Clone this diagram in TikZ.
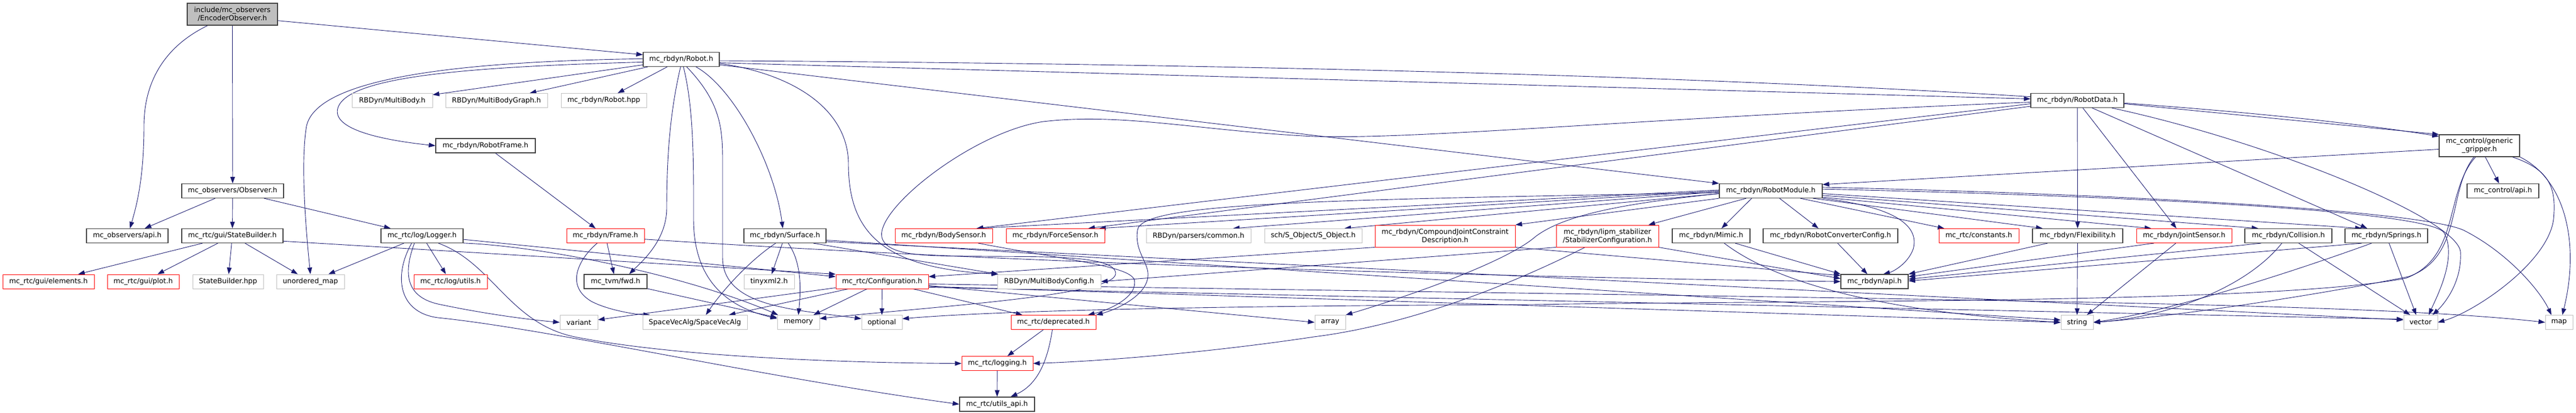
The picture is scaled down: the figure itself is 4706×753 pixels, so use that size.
\documentclass[tikz,border=0pt]{standalone}
\usepackage{fontspec}
\setmainfont{DejaVu Sans}
\usetikzlibrary{arrows.meta}
\pgfdeclarelayer{bg}
\pgfsetlayers{bg,main}
\definecolor{edgec}{RGB}{25,25,112}
\definecolor{grayb}{RGB}{191,191,191}
\definecolor{darkb}{RGB}{64,64,64}
\definecolor{redb}{RGB}{255,0,0}
\begin{document}
\begin{tikzpicture}[x=1pt,y=-1pt,
 box/.style={rectangle, inner sep=0pt, minimum height=26pt, font=\fontsize{12.8}{15}\selectfont, align=center, fill=white},
 nb/.style={box, draw=darkb, line width=1.2pt},
 nr/.style={box, draw=redb, line width=1pt},
 ng/.style={box, draw=grayb, line width=1pt},
 nroot/.style={box, draw=darkb, fill=grayb, line width=1.2pt},
 two/.style={minimum height=40pt},
 e/.style={draw=edgec, line width=0.9pt, -{Triangle[length=12pt,width=8.5pt]}},
]
\useasboundingbox (0,0) rectangle (4706,753);
% ---------------- nodes ----------------
\node[nroot,two,minimum width=165pt] (E) at (424.5,26) {include/mc\_observers\\/EncoderObserver.h};
\node[nb,minimum width=139pt] (Robot) at (1244.5,108.5) {mc\_rbdyn/Robot.h};
\node[ng,minimum width=147pt] (MultiBody) at (716.5,183.5) {RBDyn/MultiBody.h};
\node[ng,minimum width=186pt] (MBG) at (907,183.5) {RBDyn/MultiBodyGraph.h};
\node[ng,minimum width=156pt] (Robothpp) at (1103,183.5) {mc\_rbdyn/Robot.hpp};
\node[nb,minimum width=170pt] (RD) at (3795,183.5) {mc\_rbdyn/RobotData.h};
\node[nb,two,minimum width=147pt] (gripper) at (4529.5,266) {mc\_control/generic\\\_gripper.h};
\node[nb,minimum width=182pt] (RobotFrame) at (887,266) {mc\_rbdyn/RobotFrame.h};
\node[nb,minimum width=186pt] (Observer) at (425,348.5) {mc\_observers/Observer.h};
\node[nb,minimum width=188pt] (RM) at (3235,348.5) {mc\_rbdyn/RobotModule.h};
\node[nb,minimum width=131pt] (ctrlapi) at (4572.5,348.5) {mc\_control/api.h};
\node[nb,minimum width=149pt] (obsapi) at (232.5,430.5) {mc\_observers/api.h};
\node[nb,minimum width=185pt] (SB) at (424.5,430.5) {mc\_rtc/gui/StateBuilder.h};
\node[nb,minimum width=150pt] (Logger) at (771,430.5) {mc\_rtc/log/Logger.h};
\node[nr,minimum width=142pt] (Frame) at (1106,430.5) {mc\_rbdyn/Frame.h};
\node[nb,minimum width=150pt] (Surface) at (1434,430.5) {mc\_rbdyn/Surface.h};
\node[nr,minimum width=178pt] (BS) at (1724,430.5) {mc\_rbdyn/BodySensor.h};
\node[nr,minimum width=180pt] (FS) at (1928,430.5) {mc\_rbdyn/ForceSensor.h};
\node[ng,minimum width=191pt] (parsers) at (2189.5,430.5) {RBDyn/parsers/common.h};
\node[ng,minimum width=178pt] (SObject) at (2399,430.5) {sch/S\_Object/S\_Object.h};
\node[nr,two,minimum width=256pt] (CJ) at (2640,431) {mc\_rbdyn/CompoundJointConstraint\\Description.h};
\node[nr,two,minimum width=187pt] (lipm) at (2936.5,431) {mc\_rbdyn/lipm\_stabilizer\\/StabilizerConfiguration.h};
\node[nb,minimum width=142pt] (Mimic) at (3126,430.5) {mc\_rbdyn/Mimic.h};
\node[nb,minimum width=246pt] (RCC) at (3344,430.5) {mc\_rbdyn/RobotConverterConfig.h};
\node[nr,minimum width=146pt] (constants) at (3615,430.5) {mc\_rtc/constants.h};
\node[nb,minimum width=165pt] (Flex) at (3795.5,430.5) {mc\_rbdyn/Flexibility.h};
\node[nr,minimum width=174pt] (JS) at (3990,430.5) {mc\_rbdyn/JointSensor.h};
\node[nb,minimum width=159pt] (Collision) at (4180.5,430.5) {mc\_rbdyn/Collision.h};
\node[nb,minimum width=151pt] (Springs) at (4359.5,430.5) {mc\_rbdyn/Springs.h};
\node[nr,minimum width=167pt] (elements) at (88.5,514) {mc\_rtc/gui/elements.h};
\node[nr,minimum width=131pt] (plot) at (261.5,514) {mc\_rtc/gui/plot.h};
\node[ng,minimum width=129pt] (SBhpp) at (416.5,514) {StateBuilder.hpp};
\node[ng,minimum width=124pt] (umap) at (567,514) {unordered\_map};
\node[nr,minimum width=134pt] (logutils) at (823,514) {mc\_rtc/log/utils.h};
\node[nb,minimum width=115pt] (tvm) at (1124.5,514) {mc\_tvm/fwd.h};
\node[ng,minimum width=92pt] (tinyxml) at (1405,514) {tinyxml2.h};
\node[nr,minimum width=169pt] (C) at (1611.5,514) {mc\_rtc/Configuration.h};
\node[ng,minimum width=189pt] (MBC) at (1916.5,514) {RBDyn/MultiBodyConfig.h};
\node[nb,minimum width=123pt] (rbdapi) at (3424.5,514) {mc\_rbdyn/api.h};
\node[ng,minimum width=69pt] (variant) at (1057.5,588.5) {variant};
\node[ng,minimum width=191pt] (SVA) at (1269.5,588.5) {SpaceVecAlg/SpaceVecAlg};
\node[ng,minimum width=77pt] (memory) at (1458.5,588.5) {memory};
\node[ng,minimum width=74pt] (optional) at (1611,588.5) {optional};
\node[nr,minimum width=155pt] (D) at (1924.5,588.5) {mc\_rtc/deprecated.h};
\node[ng,minimum width=56pt] (array) at (2430,588.5) {array};
\node[ng,minimum width=59pt] (string) at (3794.5,588.5) {string};
\node[ng,minimum width=62pt] (vector) at (4422,588.5) {vector};
\node[ng,minimum width=50pt] (map) at (4675,588.5) {map};
\node[nr,minimum width=130pt] (logging) at (1822,663.5) {mc\_rtc/logging.h};
\node[nb,minimum width=137pt] (utils) at (1821.5,738) {mc\_rtc/utils\_api.h};
% ---------------- edges ----------------
\begin{pgfonlayer}{bg}
% EncoderObserver
\draw[e] (E) -- (Observer);
\draw[e] ([xshift=-45pt]E.south) .. controls (300,85) and (263,150) .. (263,230) .. controls (263,330) and (248,380) .. ([xshift=5pt]obsapi.north);
\draw[e] (E.-8) -- (Robot.173);
% Observer
\draw[e] (Observer) -- (obsapi);
\draw[e] (Observer) -- (SB);
\draw[e] (Observer) -- (Logger);
% StateBuilder
\draw[e] (SB) -- (elements);
\draw[e] (SB) -- (plot);
\draw[e] (SB) -- (SBhpp);
\draw[e] (SB) -- (umap);
\draw[e] (SB.-6) -- (C.171);
% Logger
\draw[e] (Logger) -- (umap);
\draw[e] (Logger) -- (logutils);
\draw[e] (Logger.-5) -- (C.174);
\draw[e] (Logger.-10) .. controls (1000,450) and (1260,505) .. (memory.160);
\draw[e] ([xshift=-14pt]Logger.south) .. controls (740,490) and (735,540) .. (800,555) .. controls (880,572) and (960,583) .. (variant.west);
\draw[e] ([xshift=-19pt]Logger.south) .. controls (720,500) and (725,570) .. (800,580) .. controls (1000,600) and (1400,690) .. (utils.west);
\draw[e] ([xshift=30pt]Logger.south) .. controls (900,480) and (930,590) .. (1050,615) .. controls (1250,655) and (1600,663) .. (logging.west);
% Robot
\draw[e] (Robot) -- (MultiBody);
\draw[e] (Robot) -- (MBG);
\draw[e] (Robot) -- (Robothpp);
\draw[e] (Robot.179) .. controls (850,112) and (580,140) .. (560,230) .. controls (548,300) and (560,430) .. (umap.north);
\draw[e] (Robot.-176) .. controls (850,122) and (640,140) .. (618,195) .. controls (600,240) and (720,258) .. (RobotFrame.west);
\draw[e] (Robot.-95) .. controls (1225,200) and (1218,280) .. (1218,380) .. controls (1218,440) and (1170,480) .. ([xshift=25pt]tvm.north);
\draw[e] ([xshift=4pt]Robot.south) .. controls (1268,200) and (1267,300) .. (1267,400) .. controls (1267,530) and (1350,565) .. (memory.170);
\draw[e] ([xshift=10pt]Robot.south) .. controls (1320,190) and (1320,240) .. (1320,300) -- (1320,470) .. controls (1320,560) and (1450,565) .. (optional.170);
\draw[e] ([xshift=27pt]Robot.south) .. controls (1340,160) and (1415,300) .. ([xshift=-4pt]Surface.north);
\draw[e] (Robot.-6) .. controls (1450,135) and (1550,200) .. (1550,300) .. controls (1550,430) and (1620,490) .. ([xshift=2pt]MBC.north west);
\draw[e] (Robot.-5) -- (RD.178);
\draw[e] (Robot.-2) .. controls (2600,118) and (3900,160) .. (gripper.167);
\draw[e] (Robot.-8) -- (RM.north west);
% RobotFrame / Frame / tvm
\draw[e] (RobotFrame) -- (Frame);
\draw[e] (Frame) -- (tvm);
\draw[e] ([xshift=-15pt]Frame.south) .. controls (1060,470) and (1030,520) .. (1080,550) .. controls (1110,566) and (1160,574) .. ([xshift=14pt]SVA.north west);
\draw[e] (Frame.-5) .. controls (2000,490) and (3000,510) .. (rbdapi.west);
\draw[e] (tvm) -- (memory);
% Surface
\draw[e] (Surface) -- (tinyxml);
\draw[e] ([xshift=-17pt]Surface.south) .. controls (1370,475) and (1320,530) .. ([xshift=20pt]SVA.north);
\draw[e] ([xshift=6pt]Surface.south) .. controls (1465,480) and (1463,530) .. (memory.north);
\draw[e] ([xshift=52pt]Surface.south) -- ([xshift=2pt]MBC.north west);
\draw[e] (Surface.-6) -- (string.172);
\draw[e] (Surface.-8) -- (vector.172);
% Configuration
\draw[e] (C) -- (variant);
\draw[e] (C) -- (SVA);
\draw[e] (C) -- (memory);
\draw[e] (C) -- (optional);
\draw[e] (C) -- (D);
\draw[e] (C.-5) -- (array.west);
\draw[e] (C.-6) -- (string.west);
\draw[e] (C.-7) -- (vector.170);
\draw[e] (C.-3) .. controls (3500,548) and (4300,550) .. (map.west);
% deprecated / logging
\draw[e] (D) -- (logging);
\draw[e] ([xshift=-2pt]D.south) .. controls (1915,650) and (1900,700) .. ([xshift=25pt]utils.north);
\draw[e] (logging) -- (utils);
% BodySensor
\draw[e] ([xshift=63pt]BS.south) .. controls (1950,475) and (2060,485) .. (2072,510) .. controls (2080,540) and (2030,565) .. ([xshift=-15pt]D.north east);
% RobotData
\draw[e] (RD.-178) .. controls (3000,215) and (2600,255) .. (2400,249) .. controls (2200,240) and (2050,205) .. (1906,222) .. controls (1780,240) and (1600,380) .. (1611,433) .. controls (1620,470) and (1700,467) .. (1800,468) .. controls (1900,469) and (2040,465) .. (2038,500) .. controls (2036,540) and (1700,560) .. (memory.10);
\draw[e] (RD.-176) -- ([xshift=60pt]BS.north);
\draw[e] (RD.-173) -- ([xshift=60pt]FS.north);
\draw[e] (RD) -- (Flex);
\draw[e] ([xshift=10pt]RD.south) -- ([xshift=-14pt]JS.north);
\draw[e] ([xshift=27pt]RD.south) -- ([xshift=-35pt]Springs.north);
\draw[e] ([xshift=63pt]RD.south) .. controls (4150,260) and (4490,400) .. (4495,460) .. controls (4498,520) and (4460,560) .. ([xshift=22pt]vector.north);
\draw[e] (RD.-4) -- (gripper.north west);
% RobotModule
\draw[e] (RM.179) -- ([xshift=60pt]BS.north);
\draw[e] (RM.180) -- ([xshift=80pt]FS.north);
\draw[e] (RM.-179) -- ([xshift=63pt]parsers.north);
\draw[e] (RM.-177) -- ([xshift=57pt]SObject.north);
\draw[e] (RM.south west) -- (CJ.north east);
\draw[e] ([xshift=-45pt]RM.south) -- ([xshift=75pt]lipm.north);
\draw[e] ([xshift=-35pt]RM.south) -- ([xshift=19pt]Mimic.north);
\draw[e] ([xshift=16pt]RM.south) -- ([xshift=-22pt]RCC.north);
\draw[e] ([xshift=54pt]RM.south) -- ([xshift=-63pt]constants.north);
\draw[e] (RM.-10) -- ([xshift=-64pt]Flex.north);
\draw[e] (RM.-7) -- ([xshift=-60pt]JS.north);
\draw[e] (RM.-5) -- ([xshift=-55pt]Collision.north);
\draw[e] (RM.-3) -- ([xshift=-45pt]Springs.north);
\draw[e] (RM.south east) .. controls (3480,380) and (3505,420) .. (3495,455) .. controls (3485,482) and (3458,496) .. ([xshift=16pt]rbdapi.north);
\draw[e] (RM.2) .. controls (3900,358) and (4440,385) .. (4465,425) .. controls (4490,470) and (4450,545) .. ([xshift=15pt]vector.north);
\draw[e] (RM.4) .. controls (3900,355) and (4420,385) .. (4500,420) .. controls (4580,460) and (4640,530) .. ([xshift=-14pt]map.north);
\draw[e] (RM.-178) .. controls (2400,365) and (2085,370) .. (2078,420) .. controls (2072,460) and (2100,480) .. (2097,505) .. controls (2094,540) and (2040,565) .. (D.north east);
\draw[e] (RM.-177) .. controls (2980,370) and (2860,390) .. (2805,432) .. controls (2750,480) and (2560,545) .. (array.north east);
% CompoundJoint / lipm
\draw[e] (CJ.south west) -- (C.6);
\draw[e] (CJ.south east) -- (rbdapi.170);
\draw[e] (lipm.south west) -- (MBC.east);
\draw[e] (lipm.south east) -- (rbdapi.175);
\draw[e] ([xshift=-41pt]lipm.south) .. controls (2800,500) and (2600,590) .. (2400,615) .. controls (2200,645) and (2000,660) .. (logging.east);
% Mimic, RCC, Flexibility, JointSensor, Collision, Springs
\draw[e] ([xshift=44pt]Mimic.south) -- (rbdapi.north west);
\draw[e] ([xshift=24pt]Mimic.south) .. controls (3250,520) and (3450,570) .. (string.west);
\draw[e] (RCC) -- (rbdapi);
\draw[e] ([xshift=-55pt]Flex.south) -- (rbdapi.north east);
\draw[e] (Flex) -- (string);
\draw[e] ([xshift=-55pt]JS.south) -- (rbdapi.8);
\draw[e] ([xshift=-15pt]JS.south) -- ([xshift=18pt]string.north);
\draw[e] ([xshift=-50pt]Collision.south) -- (rbdapi.4);
\draw[e] ([xshift=-12pt]Collision.south) .. controls (4100,530) and (3950,580) .. (string.east);
\draw[e] ([xshift=19pt]Collision.south) -- ([xshift=-19pt]vector.north);
\draw[e] ([xshift=-45pt]Springs.south) -- (rbdapi.1);
\draw[e] ([xshift=-27pt]Springs.south) .. controls (4150,510) and (3950,570) .. (string.east);
\draw[e] ([xshift=5pt]Springs.south) -- ([xshift=-8pt]vector.north);
% gripper
\draw[e] (gripper) -- (ctrlapi);
\draw[e] (gripper.-175) -- (RM.7);
\draw[e] ([xshift=-10pt]gripper.south) .. controls (4470,350) and (4500,470) .. (4400,505) .. controls (4200,545) and (3950,580) .. (string.east);
\draw[e] ([xshift=-7pt]gripper.south) .. controls (4465,350) and (4495,470) .. (4395,508) .. controls (4150,555) and (3300,548) .. (2800,556) .. controls (2300,558) and (1850,565) .. (optional.10);
\draw[e] ([xshift=60pt]gripper.south) .. controls (4660,310) and (4670,345) .. (4665,400) .. controls (4655,480) and (4520,570) .. (vector.east);
\draw[e] (gripper.south east) .. controls (4690,330) and (4712,450) .. ([xshift=6pt]map.north);
\end{pgfonlayer}
\end{tikzpicture}
\end{document}
